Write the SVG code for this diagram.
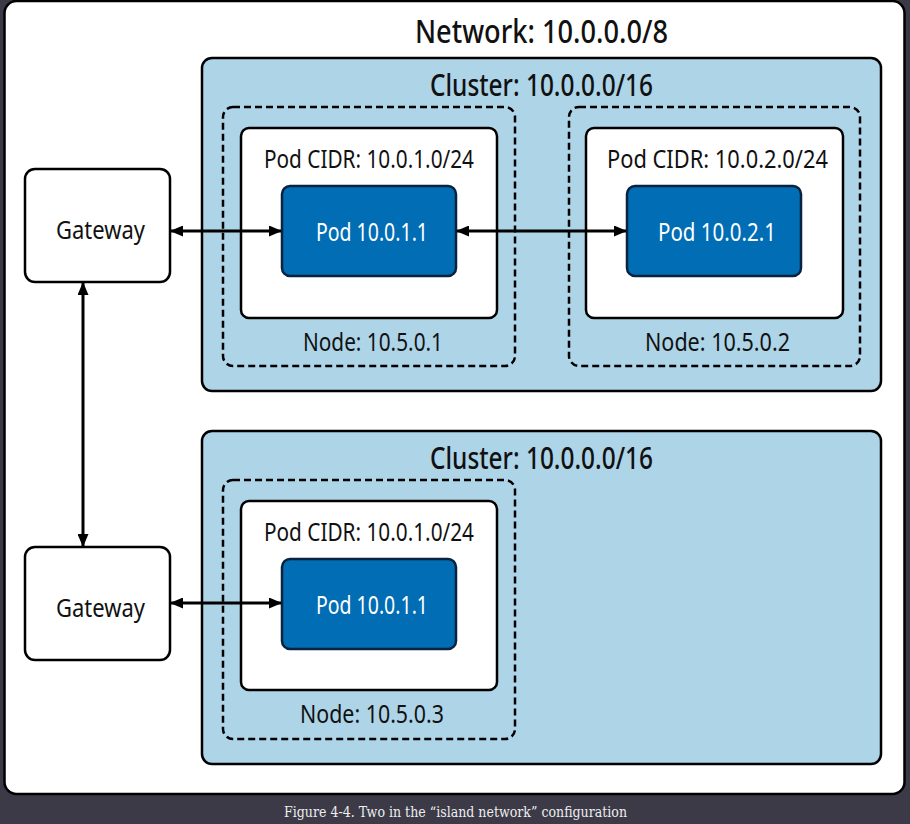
<svg xmlns="http://www.w3.org/2000/svg" width="910" height="824" viewBox="0 0 910 824">
<style>
text{font-family:"Noto Sans","Liberation Sans",sans-serif;fill:#111;}
.title{font-size:33px;font-weight:500;}
.ctitle{font-size:30px;font-weight:500;}
.lbl{font-size:26px;}
.pod{font-size:26px;fill:#fff;}
.cluster{fill:#aed4e8;stroke:#000;stroke-width:2.5;}
.nodebox{fill:none;stroke:#000;stroke-width:2.5;stroke-dasharray:7 4;}
.cidr{fill:#fff;stroke:#000;stroke-width:2.5;}
.podbox{fill:#006db5;stroke:#08233f;stroke-width:2.5;}
.gw{fill:#fff;stroke:#000;stroke-width:2.5;}
.conn{stroke:#000;stroke-width:3;fill:none;marker-start:url(#a);marker-end:url(#a);}
.cap{font-family:"DejaVu Serif","Liberation Serif",serif;font-size:14px;fill:#eee;}
</style>
<defs>
<marker id="a" viewBox="0 0 13 11" refX="12" refY="5.5" markerWidth="13" markerHeight="11" markerUnits="userSpaceOnUse" orient="auto-start-reverse">
<path d="M0,0 L13,5.5 L0,11 Z" fill="#000"/>
</marker>
</defs>
<rect x="0" y="0" width="910" height="824" fill="#3c3a47"/>
<g id="network">
<rect x="4.5" y="1" width="900" height="793" rx="12" fill="#fff" stroke="#000" stroke-width="2.5"/>
<text class="title" x="541.5" y="43" text-anchor="middle" textLength="253" lengthAdjust="spacingAndGlyphs">Network: 10.0.0.0/8</text>
</g>
<g id="cluster1">
<rect class="cluster" x="202" y="58" width="679" height="333" rx="10"/>
<text class="ctitle" x="541.5" y="96" text-anchor="middle" textLength="223" lengthAdjust="spacingAndGlyphs">Cluster: 10.0.0.0/16</text>
</g>
<g id="cluster2">
<rect class="cluster" x="202" y="431" width="679" height="333" rx="10"/>
<text class="ctitle" x="541.5" y="469" text-anchor="middle" textLength="223" lengthAdjust="spacingAndGlyphs">Cluster: 10.0.0.0/16</text>
</g>
<g id="node1">
<rect class="nodebox" x="223" y="107" width="292" height="259" rx="10"/>
<rect class="cidr" x="241" y="128" width="256" height="190" rx="8"/>
<text class="lbl" x="369" y="168" text-anchor="middle" textLength="210" lengthAdjust="spacingAndGlyphs">Pod CIDR: 10.0.1.0/24</text>
<text class="lbl" x="373" y="351" text-anchor="middle" textLength="140" lengthAdjust="spacingAndGlyphs">Node: 10.5.0.1</text>
</g>
<g id="pod1">
<rect class="podbox" x="282" y="186" width="174" height="90" rx="8"/>
<text class="pod" x="372" y="241" text-anchor="middle" textLength="112" lengthAdjust="spacingAndGlyphs">Pod 10.0.1.1</text>
</g>
<g id="node2">
<rect class="nodebox" x="569" y="107" width="291" height="259" rx="10"/>
<rect class="cidr" x="586" y="128" width="257" height="190" rx="8"/>
<text class="lbl" x="717.5" y="168" text-anchor="middle" textLength="221" lengthAdjust="spacingAndGlyphs">Pod CIDR: 10.0.2.0/24</text>
<text class="lbl" x="717.5" y="351" text-anchor="middle" textLength="145" lengthAdjust="spacingAndGlyphs">Node: 10.5.0.2</text>
</g>
<g id="pod2">
<rect class="podbox" x="627" y="186" width="174" height="90" rx="8"/>
<text class="pod" x="717" y="241" text-anchor="middle" textLength="118" lengthAdjust="spacingAndGlyphs">Pod 10.0.2.1</text>
</g>
<g id="node3">
<rect class="nodebox" x="223" y="480" width="292" height="259" rx="10"/>
<rect class="cidr" x="241" y="501" width="256" height="189" rx="8"/>
<text class="lbl" x="369" y="541" text-anchor="middle" textLength="210" lengthAdjust="spacingAndGlyphs">Pod CIDR: 10.0.1.0/24</text>
<text class="lbl" x="372" y="723" text-anchor="middle" textLength="144" lengthAdjust="spacingAndGlyphs">Node: 10.5.0.3</text>
</g>
<g id="pod3">
<rect class="podbox" x="282" y="559" width="174" height="90" rx="8"/>
<text class="pod" x="372" y="614" text-anchor="middle" textLength="112" lengthAdjust="spacingAndGlyphs">Pod 10.0.1.1</text>
</g>
<g id="gateway1">
<rect class="gw" x="25" y="169" width="145" height="113" rx="10"/>
<text class="lbl" x="100.5" y="239" text-anchor="middle" textLength="89" lengthAdjust="spacingAndGlyphs">Gateway</text>
</g>
<g id="gateway2">
<rect class="gw" x="25" y="547" width="145" height="113" rx="10"/>
<text class="lbl" x="100.5" y="617" text-anchor="middle" textLength="89" lengthAdjust="spacingAndGlyphs">Gateway</text>
</g>
<g id="connectors">
<line class="conn" x1="171" y1="231" x2="281" y2="231"/>
<line class="conn" x1="457" y1="231" x2="626" y2="231"/>
<line class="conn" x1="83" y1="283" x2="83" y2="546"/>
<line class="conn" x1="171" y1="603" x2="281" y2="603"/>
</g>
<g id="caption">
<text class="cap" x="455.5" y="817" text-anchor="middle" textLength="343" lengthAdjust="spacingAndGlyphs">Figure 4-4. Two in the “island network” configuration</text>
</g>
</svg>
